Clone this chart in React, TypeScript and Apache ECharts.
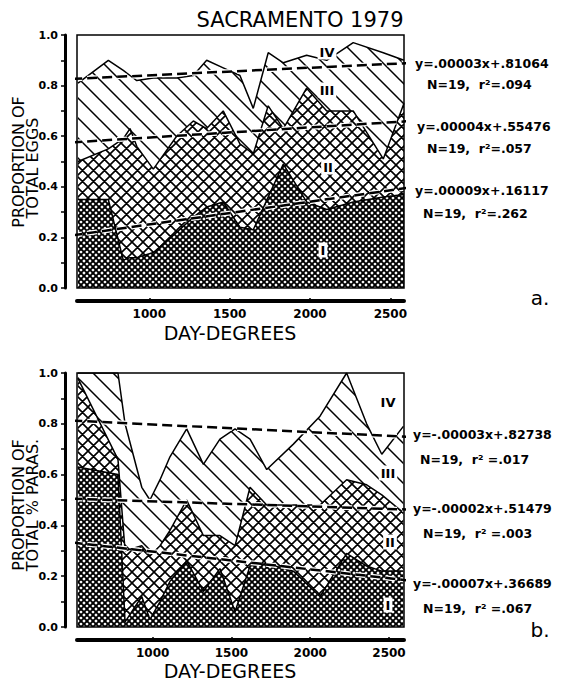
import React, { useEffect, useRef } from 'react';
import * as echarts from 'echarts';

// ---------- data ----------
// a. proportion of total eggs by stage (I..IV) at each sampling date
const xEggs = [556, 745, 838, 880, 922, 1025, 1170, 1274, 1357, 1460, 1564, 1647, 1740, 1834, 1979, 2104, 2269, 2456, 2585];
const eggsI = [0.35, 0.35, 0.11, 0.12, 0.12, 0.14, 0.22, 0.28, 0.32, 0.34, 0.24, 0.23, 0.36, 0.49, 0.34, 0.31, 0.34, 0.36, 0.37];
const eggsII = [0.15, 0.20, 0.48, 0.51, 0.44, 0.33, 0.38, 0.38, 0.31, 0.36, 0.33, 0.30, 0.36, 0.14, 0.45, 0.39, 0.36, 0.15, 0.36];
const eggsIII = [0.31, 0.35, 0.27, 0.21, 0.26, 0.36, 0.23, 0.18, 0.27, 0.17, 0.27, 0.18, 0.21, 0.26, 0.13, 0.20, 0.27, 0.42, 0.17];
const eggsIV = [0.19, 0.10, 0.14, 0.16, 0.18, 0.17, 0.17, 0.16, 0.10, 0.13, 0.16, 0.29, 0.07, 0.11, 0.08, 0.10, 0.03, 0.07, 0.10];

// b. proportion of total % parasitism by stage
const xParas = [525, 780, 825, 931, 983, 1047, 1110, 1216, 1322, 1427, 1523, 1618, 1724, 1893, 2062, 2231, 2358, 2454, 2591];
const parasI = [0.63, 0.60, 0.02, 0.12, 0.03, 0.10, 0.18, 0.26, 0.14, 0.23, 0.06, 0.24, 0.25, 0.22, 0.12, 0.29, 0.24, 0.22, 0.22];
const parasII = [0.35, 0.06, 0.28, 0.20, 0.25, 0.22, 0.20, 0.24, 0.22, 0.13, 0.26, 0.31, 0.23, 0.26, 0.36, 0.29, 0.32, 0.30, 0.23];
const parasIII = [0.02, 0.34, 0.50, 0.23, 0.22, 0.26, 0.29, 0.28, 0.28, 0.38, 0.46, 0.19, 0.14, 0.24, 0.35, 0.42, 0.24, 0.16, 0.34];
const parasIV = [0.00, 0.00, 0.20, 0.45, 0.50, 0.42, 0.33, 0.22, 0.36, 0.26, 0.22, 0.26, 0.38, 0.28, 0.17, 0.00, 0.20, 0.32, 0.21];

// regression lines (published coefficients)
const eggsSlope = [0.00003, 0.00004, 0.00009];
const eggsIntercept = [0.81064, 0.55476, 0.16117];
const eggsEq = ['y=.00003x+.81064', 'y=.00004x+.55476', 'y=.00009x+.16117'];
const eggsStat = ['N=19,  r²=.094', 'N=19,  r²=.057', 'N=19,  r²=.262'];
const parasSlope = [-0.00003, -0.00002, -0.00007];
const parasIntercept = [0.82738, 0.51479, 0.36689];
const parasEq = ['y=-.00003x+.82738', 'y=-.00002x+.51479', 'y=-.00007x+.36689'];
const parasStat = ['N=19,  r² =.017', 'N=19,  r² =.003', 'N=19,  r² =.067'];

const xTickValues = [1000, 1500, 2000, 2500];
const stageNames = ['I', 'II', 'III', 'IV'];

const FF = "'DejaVu Sans'";

function hatchTile(s: number, w: number, cross: boolean) {
  let d = '';
  for (const k of [-s, 0, s]) {
    d += `M${k - 1},-1L${k + s + 1},${s + 1}`;
    if (cross) d += `M${k - 1},${s + 1}L${k + s + 1},-1`;
  }
  const svg = `<svg xmlns="http://www.w3.org/2000/svg" width="${s}" height="${s}"><rect width="${s}" height="${s}" fill="#fff"/><path d="${d}" stroke="#000" stroke-width="${w}" fill="none"/></svg>`;
  return {
    image: 'data:image/svg+xml;charset=utf-8,' + encodeURIComponent(svg),
    repeat: 'repeat',
    imageWidth: s,
    imageHeight: s,
  };
}

export default function App() {
  const ref = useRef<HTMLDivElement>(null);
  useEffect(() => {
    const chart = echarts.init(ref.current!, null, { renderer: 'svg' });
    const fills = [hatchTile(6, 1.9, true), hatchTile(11, 1.6, true), hatchTile(20, 1.5, false), '#ffffff'];

    // value first so that the stacked dimension is the proportion (y), not day-degrees (x)
    const stacked = (xs: number[], sets: number[][], idx: number) =>
      sets.map((vals, s) => ({
        type: 'line',
        name: stageNames[s],
        xAxisIndex: idx,
        yAxisIndex: idx,
        stack: 'st' + idx,
        stackStrategy: 'all',
        encode: { x: 1, y: 0 },
        data: xs.map((x, i) => [vals[i], x]),
        symbol: 'none',
        showSymbol: false,
        lineStyle: { color: '#000', width: s === 3 ? 0 : 1.5 },
        areaStyle: { color: fills[s], opacity: 1 },
        z: 2,
      }));

    const regs = (slopes: number[], ints: number[], x0: number, x1: number, idx: number) => {
      const out: any[] = [];
      slopes.forEach((a, k) => {
        const data = [[x0, a * x0 + ints[k]], [x1, a * x1 + ints[k]]];
        out.push({
          type: 'line', xAxisIndex: idx, yAxisIndex: idx, data, symbol: 'none', clip: false, z: 5,
          lineStyle: { color: '#fff', width: 5, type: [10, 5] },
        });
        out.push({
          type: 'line', xAxisIndex: idx, yAxisIndex: idx, data, symbol: 'none', clip: false, z: 6,
          lineStyle: { color: '#000', width: 2.5, type: [10, 5] },
        });
      });
      return out;
    };

    const yAx = (idx: number) => ({
      gridIndex: idx, type: 'value', min: 0, max: 1, interval: 0.1, position: 'left', offset: 12,
      axisLine: { show: true, onZero: false, lineStyle: { color: '#000', width: 3 } },
      axisTick: { show: true, length: 4, lineStyle: { color: '#000', width: 1.5 } },
      axisLabel: {
        margin: 7, color: '#000', fontFamily: FF, fontWeight: 'bold', fontSize: 11,
        formatter: (v: number) => (Math.round(v * 10) % 2 === 0 ? v.toFixed(1) : ''),
      },
      splitLine: { show: false },
    });
    const xAx = (idx: number, min: number, max: number) => ({
      gridIndex: idx, type: 'value', min, max, position: 'bottom', offset: 13,
      axisLine: { show: true, onZero: false, lineStyle: { color: '#000', width: 4 } },
      axisTick: { show: true, inside: true, length: 3, customValues: xTickValues, lineStyle: { color: '#000', width: 1.5 } },
      axisLabel: {
        customValues: xTickValues, margin: 7, color: '#000', fontFamily: FF, fontWeight: 'bold', fontSize: 12,
        formatter: (v: number) => String(Math.round(v)),
      },
      splitLine: { show: false },
    });

    const txt = (text: string, x: number, y: number, font: string, align = 'left', extra: any = {}) => ({
      type: 'text', x, y, silent: true, z: 100,
      style: { text, font, fill: '#000', align, textAlign: align, verticalAlign: 'middle', textVerticalAlign: 'middle', ...extra },
    });
    const vtxt = (text: string, x: number, y: number) => ({
      type: 'text', x, y, rotation: Math.PI / 2, silent: true, z: 100,
      style: { text, font: `16px ${FF}`, fill: '#000', align: 'center', textAlign: 'center', verticalAlign: 'middle', textVerticalAlign: 'middle' },
    });
    const roman = (text: string, x: number, y: number) =>
      txt(text, x, y, `bold 13px ${FF}`, 'center', { backgroundColor: '#fff', padding: [1, 2] });
    const eqFont = `bold 12.5px ${FF}`;

    const graphics: any[] = [
      { type: 'rect', silent: true, z: 90, shape: { x: 77, y: 35, width: 327, height: 253 }, style: { fill: 'transparent', stroke: '#000', lineWidth: 1.5 } },
      { type: 'rect', silent: true, z: 90, shape: { x: 77, y: 373, width: 327, height: 254 }, style: { fill: 'transparent', stroke: '#000', lineWidth: 1.5 } },
      txt('SACRAMENTO 1979', 300, 20, `21px ${FF}`, 'center'),
      vtxt('PROPORTION OF', 18, 162),
      vtxt('TOTAL EGGS', 32, 168),
      vtxt('PROPORTION OF', 18, 505),
      vtxt('TOTAL % PARAS.', 32, 505),
      txt('DAY-DEGREES', 230, 333, `19px ${FF}`, 'center'),
      txt('DAY-DEGREES', 230, 671, `19px ${FF}`, 'center'),
      txt('a.', 540, 298, `20px ${FF}`, 'center'),
      txt('b.', 540, 630, `20px ${FF}`, 'center'),
      roman('IV', 327, 52), roman('III', 327, 90), roman('II', 328, 167), roman('I', 323, 250),
      roman('IV', 388, 402), roman('III', 388, 473), roman('II', 390, 542), roman('I', 388, 605),
      txt(eggsEq[0], 415, 63, eqFont), txt(eggsStat[0], 427, 84, eqFont),
      txt(eggsEq[1], 417, 126, eqFont), txt(eggsStat[1], 427, 148, eqFont),
      txt(eggsEq[2], 415, 190, eqFont), txt(eggsStat[2], 423, 213, eqFont),
      txt(parasEq[0], 413, 434, eqFont), txt(parasStat[0], 420, 459, eqFont),
      txt(parasEq[1], 413, 508, eqFont), txt(parasStat[1], 423, 533, eqFont),
      txt(parasEq[2], 413, 583, eqFont), txt(parasStat[2], 423, 608, eqFont),
    ];

    chart.setOption({
      animation: false,
      backgroundColor: '#fff',
      grid: [
        { left: 77, top: 35, width: 327, height: 253, show: false },
        { left: 77, top: 373, width: 327, height: 254, show: false },
      ],
      xAxis: [xAx(0, 550, 2585), xAx(1, 520, 2595)],
      yAxis: [yAx(0), yAx(1)],
      series: [
        ...stacked(xEggs, [eggsI, eggsII, eggsIII, eggsIV], 0),
        ...stacked(xParas, [parasI, parasII, parasIII, parasIV], 1),
        ...regs(eggsSlope, eggsIntercept, 520, 2650, 0),
        ...regs(parasSlope, parasIntercept, 490, 2660, 1),
      ],
      graphic: { elements: graphics },
    });
    return () => chart.dispose();
  }, []);
  return <div ref={ref} style={{ position: 'fixed', left: 0, top: 0, width: 562, height: 683 }} />;
}
